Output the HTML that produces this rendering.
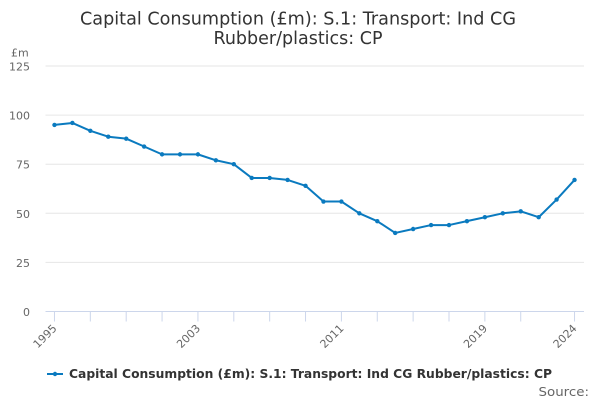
<!DOCTYPE html>
<html>
<head>
<meta charset="utf-8">
<style>
  html, body { margin: 0; padding: 0; background: #ffffff; }
  svg { display: block; font-family: "DejaVu Sans", "Liberation Sans", sans-serif; }
</style>
</head>
<body>
<svg width="600" height="400" viewBox="0 0 600 400" xmlns="http://www.w3.org/2000/svg">
  <rect width="600" height="400" fill="#ffffff"/>

  <!-- Title -->
  <text x="298" y="24.5" text-anchor="middle" font-size="17.5" fill="#333333" textLength="436" lengthAdjust="spacingAndGlyphs">Capital Consumption (£m): S.1: Transport: Ind CG</text>
  <text x="298" y="44" text-anchor="middle" font-size="17.5" fill="#333333">Rubber/plastics: CP</text>

  <!-- Axis unit -->
  <text x="11" y="56.5" font-size="11" fill="#666666">£m</text>

  <!-- Gridlines -->
  <g stroke="#e6e6e6" stroke-width="1">
    <line x1="45.5" y1="66" x2="584" y2="66"/>
    <line x1="45.5" y1="115.1" x2="584" y2="115.1"/>
    <line x1="45.5" y1="164.2" x2="584" y2="164.2"/>
    <line x1="45.5" y1="213.3" x2="584" y2="213.3"/>
    <line x1="45.5" y1="262.4" x2="584" y2="262.4"/>
  </g>

  <!-- Y labels -->
  <g font-size="11" fill="#666666" text-anchor="end">
    <text x="30" y="70.5">125</text>
    <text x="30" y="119.6">100</text>
    <text x="30" y="168.7">75</text>
    <text x="30" y="217.8">50</text>
    <text x="30" y="266.9">25</text>
    <text x="30" y="316">0</text>
  </g>

  <!-- X axis -->
  <line x1="45.5" y1="311.5" x2="584" y2="311.5" stroke="#ccd6eb" stroke-width="1"/>
  <g stroke="#ccd6eb" stroke-width="1">
    <line x1="54.47" y1="311.5" x2="54.47" y2="321.5"/>
    <line x1="90.33" y1="311.5" x2="90.33" y2="321.5"/>
    <line x1="126.2" y1="311.5" x2="126.2" y2="321.5"/>
    <line x1="162.07" y1="311.5" x2="162.07" y2="321.5"/>
    <line x1="197.93" y1="311.5" x2="197.93" y2="321.5"/>
    <line x1="233.8" y1="311.5" x2="233.8" y2="321.5"/>
    <line x1="269.67" y1="311.5" x2="269.67" y2="321.5"/>
    <line x1="305.53" y1="311.5" x2="305.53" y2="321.5"/>
    <line x1="341.4" y1="311.5" x2="341.4" y2="321.5"/>
    <line x1="377.27" y1="311.5" x2="377.27" y2="321.5"/>
    <line x1="413.13" y1="311.5" x2="413.13" y2="321.5"/>
    <line x1="449" y1="311.5" x2="449" y2="321.5"/>
    <line x1="484.87" y1="311.5" x2="484.87" y2="321.5"/>
    <line x1="520.73" y1="311.5" x2="520.73" y2="321.5"/>
    <line x1="574.53" y1="311.5" x2="574.53" y2="321.5"/>
  </g>

  <!-- X labels -->
  <g font-size="11" fill="#666666" text-anchor="end">
    <text transform="translate(57.5,329) rotate(-45)">1995</text>
    <text transform="translate(201,329) rotate(-45)">2003</text>
    <text transform="translate(344.4,329) rotate(-45)">2011</text>
    <text transform="translate(487.9,329) rotate(-45)">2019</text>
    <text transform="translate(577.5,329) rotate(-45)">2024</text>
  </g>

  <!-- Series -->
  <polyline fill="none" stroke="#0a7abf" stroke-width="2" stroke-linejoin="round" stroke-linecap="round"
    points="54.47,124.92 72.4,122.96 90.33,130.81 108.27,136.7 126.2,138.67 144.13,146.52 162.07,154.38 180,154.38 197.93,154.38 215.87,160.27 233.8,164.2 251.73,177.95 269.67,177.95 287.6,179.91 305.53,185.8 323.47,201.52 341.4,201.52 359.33,213.3 377.27,221.16 395.2,232.94 413.13,229.01 431.07,225.08 449,225.08 466.93,221.16 484.87,217.23 502.8,213.3 520.73,211.34 538.67,217.23 556.6,199.55 574.53,179.91"/>
  <g fill="#0a7abf">
    <circle cx="54.47" cy="124.92" r="2.2"/>
    <circle cx="72.4" cy="122.96" r="2.2"/>
    <circle cx="90.33" cy="130.81" r="2.2"/>
    <circle cx="108.27" cy="136.7" r="2.2"/>
    <circle cx="126.2" cy="138.67" r="2.2"/>
    <circle cx="144.13" cy="146.52" r="2.2"/>
    <circle cx="162.07" cy="154.38" r="2.2"/>
    <circle cx="180" cy="154.38" r="2.2"/>
    <circle cx="197.93" cy="154.38" r="2.2"/>
    <circle cx="215.87" cy="160.27" r="2.2"/>
    <circle cx="233.8" cy="164.2" r="2.2"/>
    <circle cx="251.73" cy="177.95" r="2.2"/>
    <circle cx="269.67" cy="177.95" r="2.2"/>
    <circle cx="287.6" cy="179.91" r="2.2"/>
    <circle cx="305.53" cy="185.8" r="2.2"/>
    <circle cx="323.47" cy="201.52" r="2.2"/>
    <circle cx="341.4" cy="201.52" r="2.2"/>
    <circle cx="359.33" cy="213.3" r="2.2"/>
    <circle cx="377.27" cy="221.16" r="2.2"/>
    <circle cx="395.2" cy="232.94" r="2.2"/>
    <circle cx="413.13" cy="229.01" r="2.2"/>
    <circle cx="431.07" cy="225.08" r="2.2"/>
    <circle cx="449" cy="225.08" r="2.2"/>
    <circle cx="466.93" cy="221.16" r="2.2"/>
    <circle cx="484.87" cy="217.23" r="2.2"/>
    <circle cx="502.8" cy="213.3" r="2.2"/>
    <circle cx="520.73" cy="211.34" r="2.2"/>
    <circle cx="538.67" cy="217.23" r="2.2"/>
    <circle cx="556.6" cy="199.55" r="2.2"/>
    <circle cx="574.53" cy="179.91" r="2.2"/>
  </g>

  <!-- Legend -->
  <line x1="47" y1="374" x2="63" y2="374" stroke="#0a7abf" stroke-width="2"/>
  <circle cx="55" cy="374" r="2.2" fill="#0a7abf"/>
  <text x="69" y="378" font-size="12" font-weight="bold" fill="#333333" textLength="483" lengthAdjust="spacingAndGlyphs">Capital Consumption (£m): S.1: Transport: Ind CG Rubber/plastics: CP</text>

  <!-- Source -->
  <text x="538.5" y="396" font-size="12" fill="#666666" textLength="50.5" lengthAdjust="spacingAndGlyphs">Source:</text>
</svg>
</body>
</html>
